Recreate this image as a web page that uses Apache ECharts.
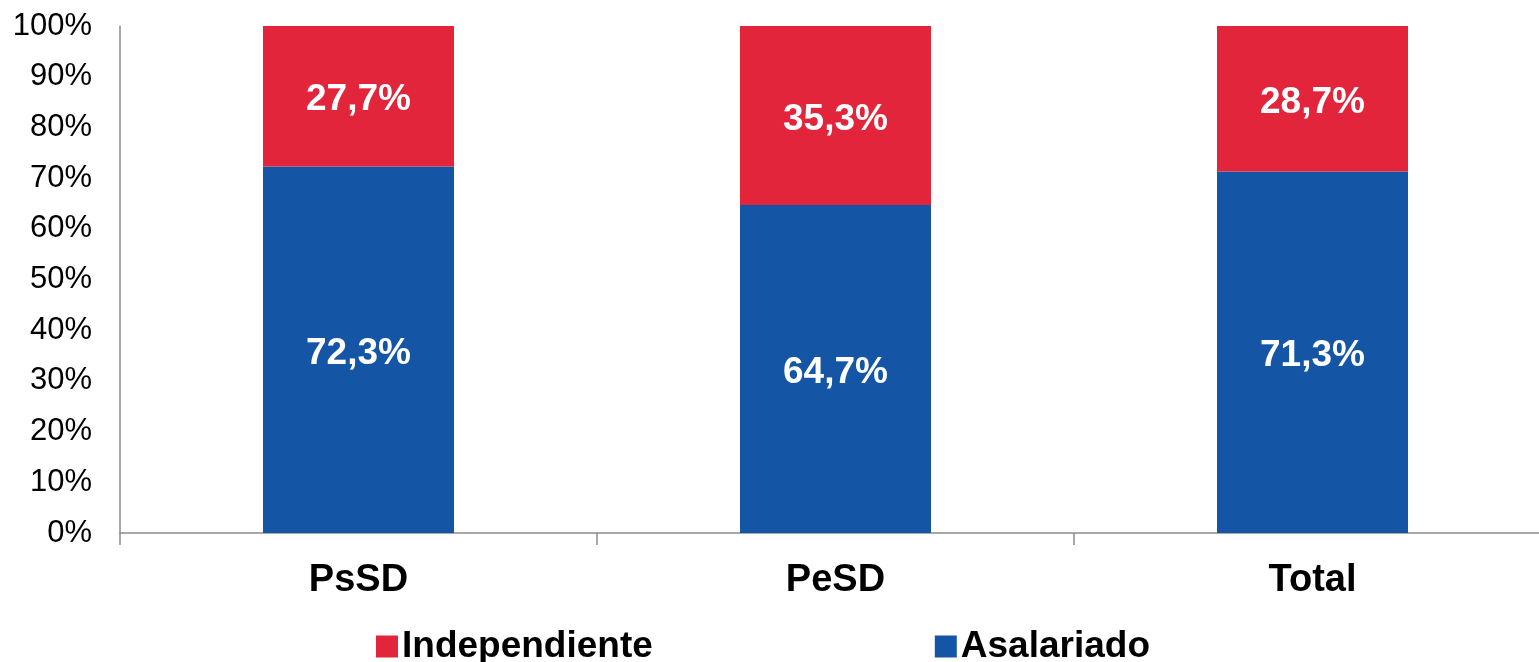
<!DOCTYPE html>
<html>
<head>
<meta charset="utf-8">
<script src="https://cdn.jsdelivr.net/npm/echarts@6/dist/echarts.min.js"></script>
<style>
  html, body { margin: 0; padding: 0; background: #fff; overflow: hidden; }
  /* a bit wider than the window: the plot runs past the right edge, as in the original */
  #chart { width: 1551px; height: 662px; }
</style>
</head>
<body>
<div id="chart"></div>
<script>
const categories = ["PsSD", "PeSD", "Total"];
const asalariado = [72.3, 64.7, 71.3];
const independiente = [27.7, 35.3, 28.7];
const yTicks = [0, 10, 20, 30, 40, 50, 60, 70, 80, 90, 100];

const fmt = v => v.toFixed(1).replace(".", ",") + "%";
const font = "'Liberation Sans', Arial, sans-serif";

const chart = echarts.init(document.getElementById("chart"));

const barLabel = {
  show: true,
  position: "inside",
  offset: [0, 4],
  color: "#fff",
  fontFamily: font,
  fontWeight: "bold",
  fontSize: 37,
  formatter: p => fmt(p.value)
};

chart.setOption({
  animation: false,
  textStyle: { fontFamily: font },
  grid: { left: 120, right: 0, top: 26, bottom: 129, containLabel: false },
  legend: {
    data: ["Independiente", "Asalariado"],
    left: 376,
    top: 628,
    padding: 0,
    itemWidth: 22,
    itemHeight: 22,
    itemGap: 282,
    icon: "rect",
    textStyle: { fontFamily: font, fontWeight: "bold", fontSize: 37, color: "#000", padding: [0, 0, 0, -1] }
  },
  xAxis: {
    type: "category",
    data: categories,
    axisLine: { lineStyle: { color: "#8c8c8c", width: 1.5 } },
    axisTick: { show: true, length: 12, lineStyle: { color: "#8c8c8c", width: 1.5 } },
    axisLabel: { color: "#000", fontFamily: font, fontWeight: "bold", fontSize: 38, margin: 29 }
  },
  yAxis: {
    type: "value",
    min: yTicks[0],
    max: yTicks[yTicks.length - 1],
    interval: 10,
    axisLine: { show: true, lineStyle: { color: "#8c8c8c", width: 1.5 } },
    axisTick: { show: false },
    splitLine: { show: false },
    axisLabel: { color: "#000", fontFamily: font, fontSize: 31, margin: 28, formatter: v => v + "%" }
  },
  series: [
    {
      name: "Asalariado",
      type: "bar",
      stack: "total",
      barWidth: 191,
      data: asalariado,
      itemStyle: { color: "#1455a6" },
      label: barLabel
    },
    {
      name: "Independiente",
      type: "bar",
      stack: "total",
      barWidth: 191,
      data: independiente,
      itemStyle: { color: "#e2253a" },
      label: barLabel
    }
  ]
});
</script>
</body>
</html>
